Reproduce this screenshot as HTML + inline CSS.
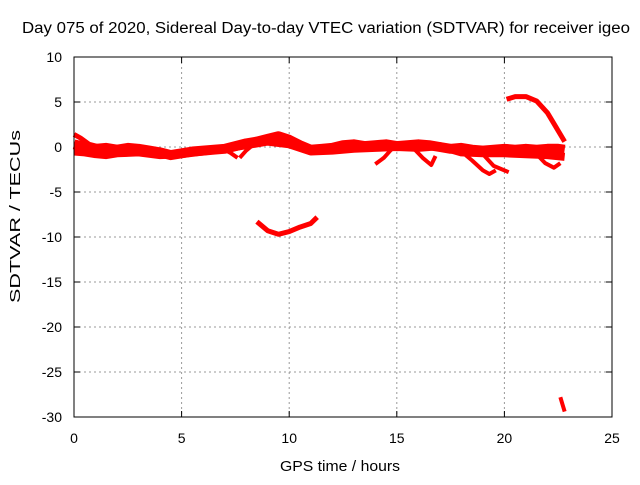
<!DOCTYPE html>
<html><head><meta charset="utf-8"><style>
body{margin:0;background:#fff;font-family:"Liberation Sans",sans-serif;}
svg text{font-family:"Liberation Sans",sans-serif;font-size:14px;fill:#000}
</style></head><body>
<svg id="c" width="640" height="480">
<text x="22" y="33" textLength="608" lengthAdjust="spacingAndGlyphs" style="font-size:15.5px">Day 075 of 2020, Sidereal Day-to-day VTEC variation (SDTVAR) for receiver igeo</text>
<text x="280" y="471" textLength="120" lengthAdjust="spacingAndGlyphs" style="font-size:15px">GPS time / hours</text>
<text transform="translate(20,303) rotate(-90)" textLength="173" lengthAdjust="spacingAndGlyphs" style="font-size:15px">SDTVAR / TECUs</text>
<g id="grid"></g><g id="ticks"></g><g id="series"></g>
<rect x="74" y="57" width="538" height="360" fill="none" stroke="#000"/>
</svg>
<script>
const xTicks=[0,5,10,15,20,25];
const yTicks=[10,5,0,-5,-10,-15,-20,-25,-30];
const trackAHours=[0,0.5,1,1.5,2,2.5,3,3.5,4,4.5,5,5.5,6,6.5,7,7.5,8,8.5,9,9.5,10,10.5,11,11.5,12,12.5,13,13.5,14,14.5,15,15.5,16,16.5,17,17.5,18,18.5,19,19.5,20,20.5,21,21.5,22,22.5,22.8];
const trackAValues=[0.3,0,-0.2,-0.1,-0.3,-0.1,-0.2,-0.4,-0.6,-0.9,-0.7,-0.5,-0.4,-0.3,-0.2,0.1,0.4,0.6,0.9,1.2,0.8,0.2,-0.3,-0.2,-0.1,0.2,0.3,0.1,0.2,0.3,0.1,0.2,0.3,0.2,0,-0.2,-0.1,-0.3,-0.4,-0.3,-0.2,-0.3,-0.2,-0.3,-0.2,-0.2,-0.3];
const trackBHours=[0,0.5,1,1.5,2,3,4,5,6,7,8,9,10,11,12,13,14,15,16,17,18,19,20,21,22,22.8];
const trackBValues=[-0.5,-0.6,-0.8,-0.9,-0.7,-0.6,-0.9,-0.8,-0.5,-0.2,0.2,0.6,0.3,-0.5,-0.4,-0.2,-0.1,0,-0.1,0.1,-0.6,-0.7,-0.7,-0.8,-0.9,-1.1];
const trackCHours=[0,0.3,0.7,1.2];
const trackCValues=[1.4,1,0.3,0];
const dipHours=[8.5,9,9.5,10,10.5,11,11.3];
const dipValues=[-8.3,-9.3,-9.7,-9.4,-8.9,-8.5,-7.8];
const arcHours=[20.1,20.5,21,21.5,22,22.4,22.8];
const arcValues=[5.3,5.6,5.6,5.1,3.8,2.2,0.6];
const fallHours=[22.6,22.7,22.8];
const fallValues=[-27.8,-28.6,-29.4];
const branch1Hours=[18,18.5,19,19.3,19.6];
const branch1Values=[-0.5,-1.5,-2.6,-3,-2.6];
const branch2Hours=[19,19.5,20,20.2];
const branch2Values=[-0.8,-2.1,-2.6,-2.8];
const branch3Hours=[21.5,21.9,22.3,22.6];
const branch3Values=[-0.8,-1.8,-2.3,-1.8];
const branch4Hours=[14,14.4,14.7,15];
const branch4Values=[-1.9,-1.2,-0.4,0.3];
const branch5Hours=[15.8,16.2,16.6,16.8];
const branch5Values=[-0.2,-1.2,-2,-1];
const branch6Hours=[7.7,8,8.3];
const branch6Values=[-1.2,-0.4,0.2];
const branch7Hours=[7,7.3,7.6];
const branch7Values=[-0.3,-0.7,-1.2];
const X=h=>74+h*21.52, Y=v=>147-v*9;
const NS="http://www.w3.org/2000/svg";
const grid=document.getElementById('grid'),ticks=document.getElementById('ticks'),ser=document.getElementById('series');
function mk(tag,attrs,parent){const e=document.createElementNS(NS,tag);for(const k in attrs)e.setAttribute(k,attrs[k]);parent.appendChild(e);return e;}
xTicks.forEach(t=>{const x=X(t);
 if(t>0&&t<25){const g=mk('line',{x1:x,x2:x,y1:57,y2:417,stroke:'#999','stroke-dasharray':'2,3'},grid);
 
 }
 mk('line',{x1:x,x2:x,y1:417,y2:411,stroke:'#000'},ticks);mk('line',{x1:x,x2:x,y1:57,y2:63,stroke:'#000'},ticks);
 const tx=mk('text',{x:x,y:443,'text-anchor':'middle'},ticks);tx.textContent=t;
 
 });
yTicks.forEach(t=>{const y=Y(t);
 if(t<10&&t>-30){const g=mk('line',{x1:74,x2:612,y1:y,y2:y,stroke:'#999','stroke-dasharray':'2,3'},grid);
 
 }
 mk('line',{x1:74,x2:80,y1:y,y2:y,stroke:'#000'},ticks);mk('line',{x1:612,x2:606,y1:y,y2:y,stroke:'#000'},ticks);
 const tx=mk('text',{x:62,y:y+5,'text-anchor':'end'},ticks);tx.textContent=t;
 
 });
function track(hs,vs,w,name){const p=mk('polyline',{points:hs.map((h,i)=>X(h)+','+Y(vs[i])).join(' '),fill:'none',stroke:'#f00','stroke-width':w,'stroke-linejoin':'round'},ser);
 
 }
track(trackAHours,trackAValues,10,'main-band-upper');
track(trackBHours,trackBValues,8,'main-band-lower');
track(trackCHours,trackCValues,5,'start-spike');
track(dipHours,dipValues,5,'dip-arc');
track(arcHours,arcValues,5,'late-arc');
track(fallHours,fallValues,4,'final-drop');
track(branch1Hours,branch1Values,4,'branch-1');
track(branch2Hours,branch2Values,4,'branch-2');
track(branch3Hours,branch3Values,4,'branch-3');
track(branch4Hours,branch4Values,4,'branch-4');
track(branch5Hours,branch5Values,4,'branch-5');
track(branch6Hours,branch6Values,4,'branch-6');
track(branch7Hours,branch7Values,4,'branch-7');
</script>
</body></html>
